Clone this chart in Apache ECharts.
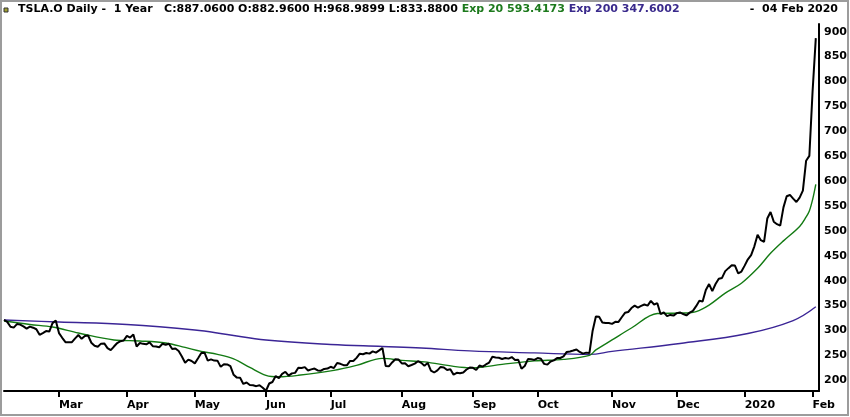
<!DOCTYPE html>
<html><head><meta charset="utf-8">
<script src="https://cdn.jsdelivr.net/npm/echarts@6/dist/echarts.min.js"></script>
<style>html,body{margin:0;padding:0;background:#fff}#c{width:850px;height:417px}</style>
</head><body><div id="c"></div>
<script>
const dates = [
'2019-02-05','2019-02-06','2019-02-07','2019-02-08','2019-02-11','2019-02-12','2019-02-13','2019-02-14','2019-02-15','2019-02-19','2019-02-20','2019-02-21','2019-02-22','2019-02-25','2019-02-26','2019-02-27','2019-02-28',
'2019-03-01','2019-03-04','2019-03-05','2019-03-06','2019-03-07','2019-03-08','2019-03-11','2019-03-12','2019-03-13','2019-03-14','2019-03-15','2019-03-18','2019-03-19','2019-03-20','2019-03-21','2019-03-22','2019-03-25','2019-03-26','2019-03-27','2019-03-28','2019-03-29',
'2019-04-01','2019-04-02','2019-04-03','2019-04-04','2019-04-05','2019-04-08','2019-04-09','2019-04-10','2019-04-11','2019-04-12','2019-04-15','2019-04-16','2019-04-17','2019-04-18','2019-04-22','2019-04-23','2019-04-24','2019-04-25','2019-04-26','2019-04-29','2019-04-30',
'2019-05-01','2019-05-02','2019-05-03','2019-05-06','2019-05-07','2019-05-08','2019-05-09','2019-05-10','2019-05-13','2019-05-14','2019-05-15','2019-05-16','2019-05-17','2019-05-20','2019-05-21','2019-05-22','2019-05-23','2019-05-24','2019-05-28','2019-05-29','2019-05-30','2019-05-31',
'2019-06-03','2019-06-04','2019-06-05','2019-06-06','2019-06-07','2019-06-10','2019-06-11','2019-06-12','2019-06-13','2019-06-14','2019-06-17','2019-06-18','2019-06-19','2019-06-20','2019-06-21','2019-06-24','2019-06-25','2019-06-26','2019-06-27','2019-06-28',
'2019-07-01','2019-07-02','2019-07-03','2019-07-05','2019-07-08','2019-07-09','2019-07-10','2019-07-11','2019-07-12','2019-07-15','2019-07-16','2019-07-17','2019-07-18','2019-07-19','2019-07-22','2019-07-23','2019-07-24','2019-07-25','2019-07-26','2019-07-29','2019-07-30','2019-07-31',
'2019-08-01','2019-08-02','2019-08-05','2019-08-06','2019-08-07','2019-08-08','2019-08-09','2019-08-12','2019-08-13','2019-08-14','2019-08-15','2019-08-16','2019-08-19','2019-08-20','2019-08-21','2019-08-22','2019-08-23','2019-08-26','2019-08-27','2019-08-28','2019-08-29','2019-08-30',
'2019-09-03','2019-09-04','2019-09-05','2019-09-06','2019-09-09','2019-09-10','2019-09-11','2019-09-12','2019-09-13','2019-09-16','2019-09-17','2019-09-18','2019-09-19','2019-09-20','2019-09-23','2019-09-24','2019-09-25','2019-09-26','2019-09-27','2019-09-30',
'2019-10-01','2019-10-02','2019-10-03','2019-10-04','2019-10-07','2019-10-08','2019-10-09','2019-10-10','2019-10-11','2019-10-14','2019-10-15','2019-10-16','2019-10-17','2019-10-18','2019-10-21','2019-10-22','2019-10-23','2019-10-24','2019-10-25','2019-10-28','2019-10-29','2019-10-30','2019-10-31',
'2019-11-01','2019-11-04','2019-11-05','2019-11-06','2019-11-07','2019-11-08','2019-11-11','2019-11-12','2019-11-13','2019-11-14','2019-11-15','2019-11-18','2019-11-19','2019-11-20','2019-11-21','2019-11-22','2019-11-25','2019-11-26','2019-11-27','2019-11-29',
'2019-12-02','2019-12-03','2019-12-04','2019-12-05','2019-12-06','2019-12-09','2019-12-10','2019-12-11','2019-12-12','2019-12-13','2019-12-16','2019-12-17','2019-12-18','2019-12-19','2019-12-20','2019-12-23','2019-12-24','2019-12-26','2019-12-27','2019-12-30','2019-12-31',
'2020-01-02','2020-01-03','2020-01-06','2020-01-07','2020-01-08','2020-01-09','2020-01-10','2020-01-13','2020-01-14','2020-01-15','2020-01-16','2020-01-17','2020-01-21','2020-01-22','2020-01-23','2020-01-24','2020-01-27','2020-01-28','2020-01-29','2020-01-30','2020-01-31',
'2020-02-03','2020-02-04'
];
const closes = [
321.35,317.22,307.51,305.80,312.84,311.81,308.17,303.77,307.88,305.64,302.56,291.23,294.71,298.77,297.86,314.74,319.88,
294.79,285.36,276.54,276.24,276.59,284.14,290.92,283.36,288.96,289.96,275.43,269.49,267.47,273.60,274.02,264.53,260.42,267.77,274.83,278.62,279.86,
289.18,285.88,291.81,267.78,274.96,273.20,272.31,276.06,268.42,267.70,266.38,273.36,271.23,273.26,262.75,263.90,258.66,247.63,235.14,241.47,238.69,
234.01,244.10,255.03,255.34,239.60,241.98,239.52,239.46,227.01,232.31,231.95,228.33,211.03,205.36,205.08,192.73,195.49,190.63,189.86,188.22,189.98,185.16,
178.97,193.60,196.59,208.44,204.53,212.88,217.10,209.26,213.91,214.92,225.03,224.74,226.43,219.62,221.86,223.64,219.76,219.27,222.84,223.46,
227.17,224.55,234.90,233.10,230.34,230.06,238.92,238.60,245.08,253.50,252.38,254.86,253.54,258.18,255.68,260.17,264.88,228.82,228.04,235.77,242.26,241.61,
233.85,234.34,228.32,230.75,233.42,238.30,235.01,229.01,235.00,219.62,215.64,219.94,226.83,225.86,220.83,222.15,211.40,215.00,214.08,215.59,221.71,225.61,
225.01,220.68,229.58,227.45,231.79,235.54,247.10,245.87,245.20,242.81,244.79,243.49,246.60,240.62,241.23,223.21,228.70,242.56,242.13,240.87,
244.69,243.13,233.03,231.43,237.72,240.05,244.53,244.74,247.89,256.96,257.89,259.75,261.97,256.95,253.50,255.58,254.68,299.68,328.13,327.71,316.22,315.01,314.92,
313.31,317.47,317.22,326.58,335.54,337.14,345.09,349.93,346.11,349.35,352.17,349.99,359.52,352.22,354.83,333.04,336.34,328.92,331.29,329.94,
334.87,336.20,333.03,330.37,335.89,339.53,348.84,359.68,358.39,381.50,393.15,378.99,393.44,404.04,405.59,419.22,425.25,430.94,430.38,414.70,418.33,
430.26,443.01,451.54,469.06,492.14,481.34,478.15,524.86,537.92,518.50,513.49,510.50,547.20,569.56,572.20,564.82,558.02,566.90,580.99,640.81,650.57,
780.00,887.06
];
const ema20Dates = ['2019-02-05','2019-02-15','2019-02-27','2019-03-11','2019-03-26','2019-04-05','2019-04-17','2019-04-26','2019-05-03','2019-05-10','2019-05-17','2019-05-24','2019-06-03','2019-06-07','2019-06-17','2019-07-02','2019-07-12','2019-07-24','2019-08-01','2019-08-12','2019-08-23','2019-09-03','2019-09-16','2019-09-30','2019-10-11','2019-10-23','2019-10-25','2019-11-01','2019-11-11','2019-11-21','2019-12-04','2019-12-10','2019-12-16','2019-12-23','2019-12-31','2020-01-08','2020-01-14','2020-01-21','2020-01-28','2020-01-30','2020-01-31','2020-02-03','2020-02-04'];
const ema20Values = [319,312,307,295,281,279,275,266,258,252,243,226,210,207,210,220,230,244,240,237,228,225,232,239,242,250,261,281,305,334,335,338,351,375,395,425,455,480,509,528,540,562.6,593.4173];
const ema200Dates = ['2019-02-05','2019-03-01','2019-04-01','2019-05-01','2019-05-15','2019-06-03','2019-07-01','2019-07-24','2019-08-09','2019-08-30','2019-09-30','2019-10-23','2019-11-01','2019-12-03','2020-01-03','2020-01-24','2020-02-04'];
const ema200Values = [321,317,312,301,292,281,272,268,265,259,255,252,258,274,294,320,347.6002];
const monthTickDates = ['2019-03-01','2019-04-01','2019-05-01','2019-06-03','2019-07-01','2019-08-01','2019-09-03','2019-10-01','2019-11-01','2019-12-02','2020-01-02','2020-02-03'];
const monthTickLabels = ['Mar','Apr','May','Jun','Jul','Aug','Sep','Oct','Nov','Dec','2020','Feb'];
const priceTicks = [200,250,300,350,400,450,500,550,600,650,700,750,800,850,900];
const headerMain = 'TSLA.O Daily -  1 Year   C:887.0600 O:882.9600 H:968.9899 L:833.8800';
const headerEma20 = 'Exp 20 593.4173';
const headerEma200 = 'Exp 200 347.6002';
const headerDate = '-  04 Feb 2020';

const axisDates = dates.concat(['']);
function sparse(ds, vs) {
  const m = {};
  ds.forEach((d, i) => { m[d] = vs[i]; });
  return axisDates.map(d => (d in m ? m[d] : null));
}
const tickSet = new Set(monthTickDates);
const FONT = 'DejaVu Sans';
const HF = 11;

const chart = echarts.init(document.getElementById('c'), null, {renderer: 'canvas'});
chart.setOption({
  animation: false,
  backgroundColor: '#fff',
  title: [{
    left: 18, top: 4, padding: 0,
    text: '{k|' + headerMain + '} {g|' + headerEma20 + '} {p|' + headerEma200 + '}',
    textStyle: {
      fontFamily: FONT, fontSize: HF, fontWeight: 'bold',
      rich: {
        k: {color: '#000', fontFamily: FONT, fontSize: HF, fontWeight: 'bold'},
        g: {color: '#1d7a1d', fontFamily: FONT, fontSize: HF, fontWeight: 'bold'},
        p: {color: '#3a2a8c', fontFamily: FONT, fontSize: HF, fontWeight: 'bold'}
      }
    }
  }, {
    right: 12, top: 4, padding: 0,
    text: headerDate,
    textStyle: {color: '#000', fontFamily: FONT, fontSize: HF, fontWeight: 'bold'}
  }],
  graphic: [
    {type: 'rect', shape: {x: 1, y: 1, width: 847, height: 414}, style: {fill: 'none', stroke: '#9c9c9c', lineWidth: 2}, silent: true},
    {type: 'rect', shape: {x: 4, y: 8, width: 4, height: 4}, style: {fill: '#a0a030', stroke: '#333', lineWidth: 1}, silent: true}
  ],
  grid: {left: 4, right: 30, top: 24, bottom: 26, containLabel: false},
  xAxis: {
    type: 'category',
    data: axisDates,
    boundaryGap: false,
    axisLine: {show: true, lineStyle: {color: '#000', width: 2}},
    axisTick: {show: true, length: 6, lineStyle: {color: '#000', width: 2}, interval: (i, v) => tickSet.has(v)},
    axisLabel: {
      interval: (i, v) => tickSet.has(v),
      formatter: v => monthTickLabels[monthTickDates.indexOf(v)],
      align: 'left', margin: 9, color: '#000', fontFamily: FONT, fontSize: 11, fontWeight: 'bold'
    },
    splitLine: {show: false}
  },
  yAxis: {
    type: 'value',
    position: 'right',
    min: 178.5, max: 915.5,
    axisLine: {show: true, lineStyle: {color: '#000', width: 2}},
    axisTick: {show: false},
    splitLine: {show: false},
    axisLabel: {
      customValues: priceTicks,
      margin: 5, color: '#000', fontFamily: FONT, fontSize: 11, fontWeight: 'bold'
    }
  },
  series: [
    {type: 'line', name: 'Exp 200', data: sparse(ema200Dates, ema200Values), connectNulls: true, smooth: 0.4, showSymbol: false, lineStyle: {color: '#3b2596', width: 1.4}, z: 2},
    {type: 'line', name: 'Exp 20', data: sparse(ema20Dates, ema20Values), connectNulls: true, smooth: 0.35, showSymbol: false, lineStyle: {color: '#137a13', width: 1.4}, z: 3},
    {type: 'line', name: 'Close', data: closes, showSymbol: false, lineStyle: {color: '#000', width: 2}, z: 4}
  ]
});
</script>
</body></html>
